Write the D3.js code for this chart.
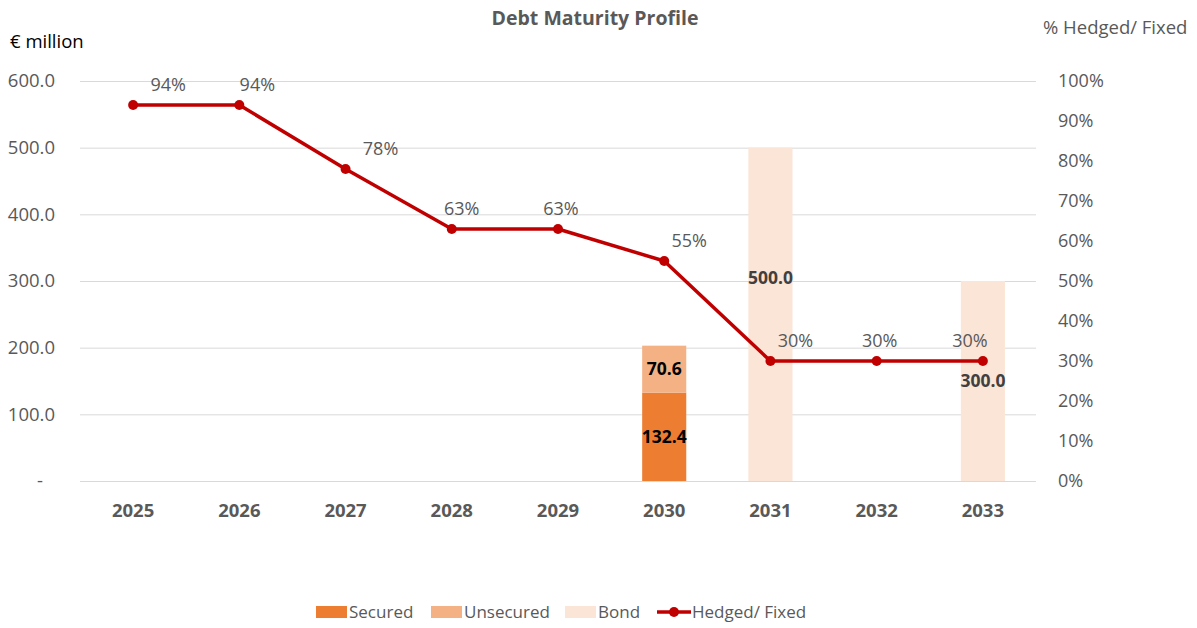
<!DOCTYPE html>
<html lang="en">
<head>
  <meta charset="UTF-8">
  <title>Debt Maturity Profile</title>
  <script src="https://d3js.org/d3.v7.min.js"></script>
  <style>
    body { margin: 0; background: #fff; }
    text { font-family: "Segoe UI", "Open Sans", "Noto Sans", sans-serif; fill: #595959; }
  </style>
</head>
<body>
<div class="main"></div>
<script>
  // chart data
  var years = ["2025", "2026", "2027", "2028", "2029", "2030", "2031", "2032", "2033"];
  var secured = [0, 0, 0, 0, 0, 132.4, 0, 0, 0];
  var unsecured = [0, 0, 0, 0, 0, 70.6, 0, 0, 0];
  var bond = [0, 0, 0, 0, 0, 0, 500.0, 0, 300.0];
  var hedged = [94, 94, 78, 63, 63, 55, 30, 30, 30];
  var leftTicks = [0, 100, 200, 300, 400, 500, 600];
  var rightTicks = [0, 10, 20, 30, 40, 50, 60, 70, 80, 90, 100];

  // label nudges (px) for the % labels, like the hand-placed ones in the original
  var pctDx = [35, 18, 35, 10, 3, 25, 25, 3, -13];

  var width = 1197, height = 628;
  var plotL = 80, plotR = 1036, plotT = 81, plotB = 481;

  var svg = d3.select(".main").append("svg").attr("width", width).attr("height", height);

  var x = d3.scaleBand().domain(years).range([plotL, plotR]).paddingInner(0.585).paddingOuter(0.2925);
  var y = d3.scaleLinear().domain([0, 600]).range([plotB, plotT]);
  var y2 = d3.scaleLinear().domain([0, 100]).range([plotB, plotT]);

  // gridlines
  svg.append("g").selectAll("line").data(leftTicks).join("line")
    .attr("x1", plotL).attr("x2", plotR)
    .attr("y1", d => y(d) + 0.5).attr("y2", d => y(d) + 0.5)
    .style("stroke", "#d9d9d9").style("stroke-width", 1);

  // left axis labels
  svg.append("g").selectAll("text").data(leftTicks).join("text")
    .attr("x", d => d === 0 ? 43 : 55).attr("y", d => y(d)).attr("dy", "0.35em")
    .attr("text-anchor", "end").style("font-size", "18.5px")
    .text(d => d === 0 ? "-" : d3.format(".1f")(d));

  // right axis labels
  svg.append("g").selectAll("text").data(rightTicks).join("text")
    .attr("x", 1058).attr("y", d => y2(d)).attr("dy", "0.35em")
    .style("font-size", "18px")
    .text(d => d + "%");

  // category labels
  svg.append("g").selectAll("text").data(years).join("text")
    .attr("x", d => x(d) + x.bandwidth() / 2).attr("y", 511).attr("dy", "0.35em")
    .attr("text-anchor", "middle").style("font-size", "18.5px").style("font-weight", "bold")
    .text(d => d);

  // stacked bars
  var rows = years.map((yr, i) => ({year: yr, secured: secured[i], unsecured: unsecured[i], bond: bond[i]}));
  var keys = ["secured", "unsecured", "bond"];
  var colors = {secured: "#ED7D31", unsecured: "#F4B183", bond: "#FBE5D6"};
  var stack = d3.stack().keys(keys)(rows);

  stack.forEach(function(layer) {
    svg.append("g").selectAll("rect").data(layer.filter(d => d[1] > d[0])).join("rect")
      .attr("x", d => x(d.data.year)).attr("width", x.bandwidth())
      .attr("y", d => y(d[1])).attr("height", d => y(d[0]) - y(d[1]))
      .style("fill", colors[layer.key]);
  });

  // bar labels
  stack.forEach(function(layer) {
    svg.append("g").selectAll("text").data(layer.filter(d => d[1] > d[0])).join("text")
      .attr("x", d => x(d.data.year) + x.bandwidth() / 2)
      .attr("y", function(d) {
        var mid = (d[0] + d[1]) / 2;
        if (layer.key === "bond" && d[1] >= 500) mid = d[0] + (d[1] - d[0]) * 0.61;
        return y(mid);
      })
      .attr("dy", "0.35em").attr("text-anchor", "middle")
      .style("font-size", "17.5px").style("font-weight", "bold")
      .style("fill", layer.key === "bond" ? "#404040" : "#000")
      .text(d => d3.format(".1f")(d[1] - d[0]));
  });

  // hedged line (right axis)
  var cx = d => x(d) + x.bandwidth() / 2;
  var line = d3.line().x((d, i) => cx(years[i])).y(d => y2(d));
  svg.append("path").datum(hedged).attr("d", line)
    .style("fill", "none").style("stroke", "#C00000").style("stroke-width", 3.5).style("stroke-linejoin", "round");
  svg.append("g").selectAll("circle").data(hedged).join("circle")
    .attr("cx", (d, i) => cx(years[i])).attr("cy", d => y2(d)).attr("r", 5)
    .style("fill", "#C00000");
  svg.append("g").selectAll("text").data(hedged).join("text")
    .attr("x", (d, i) => cx(years[i]) + pctDx[i]).attr("y", d => y2(d) - 20).attr("dy", "0.35em")
    .attr("text-anchor", "middle").style("font-size", "18px")
    .text(d => d + "%");

  // title and axis titles
  svg.append("text").attr("x", 595).attr("y", 18).attr("dy", "0.35em").attr("text-anchor", "middle")
    .style("font-size", "19.5px").style("font-weight", "bold").text("Debt Maturity Profile");
  svg.append("text").attr("x", 10).attr("y", 42).attr("dy", "0.35em")
    .style("font-size", "18.5px").style("fill", "#000").text("€ million");
  svg.append("text").attr("x", 1043).attr("y", 28).attr("dy", "0.35em")
    .style("font-size", "18.5px").text("% Hedged/ Fixed");

  // legend
  var legend = [
    {label: "Secured", color: colors.secured, x: 316},
    {label: "Unsecured", color: colors.unsecured, x: 431},
    {label: "Bond", color: colors.bond, x: 565},
    {label: "Hedged/ Fixed", color: "#C00000", x: 657, line: true}
  ];
  legend.forEach(function(l) {
    if (l.line) {
      svg.append("line").attr("x1", l.x).attr("x2", l.x + 34).attr("y1", 612).attr("y2", 612)
        .style("stroke", l.color).style("stroke-width", 3.5);
      svg.append("circle").attr("cx", l.x + 17).attr("cy", 612).attr("r", 5).style("fill", l.color);
    } else {
      svg.append("rect").attr("x", l.x).attr("y", 606).attr("width", 31).attr("height", 12).style("fill", l.color);
    }
    svg.append("text").attr("x", l.x + (l.line ? 35 : 33)).attr("y", 612).attr("dy", "0.35em")
      .style("font-size", "17px").text(l.label);
  });
</script>
</body>
</html>
